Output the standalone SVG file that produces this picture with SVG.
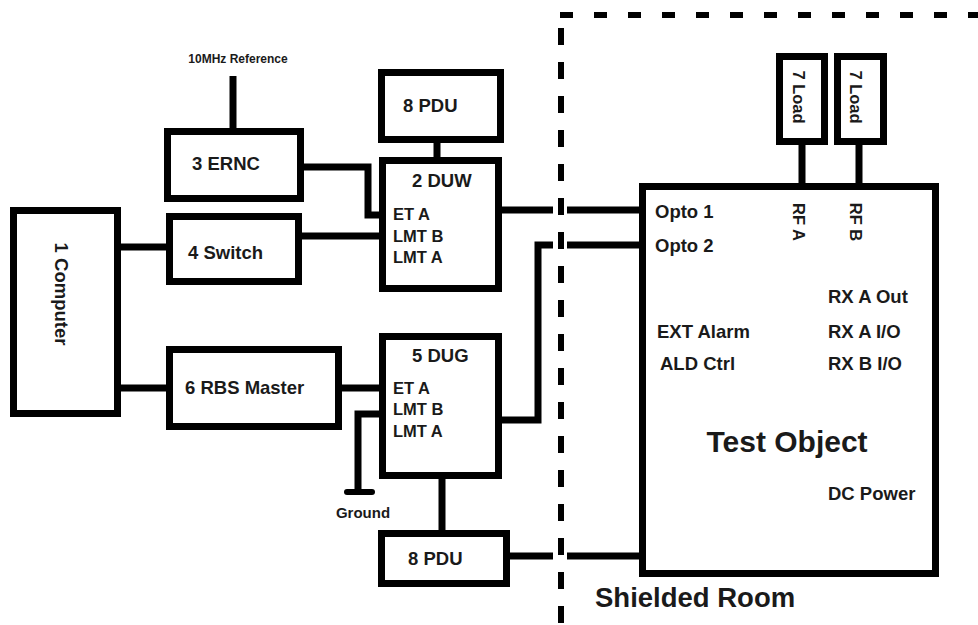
<svg xmlns="http://www.w3.org/2000/svg" width="978" height="625" viewBox="0 0 978 625">
<style>
.box{fill:#fff;stroke:#000;stroke-width:7}
.ln{fill:none;stroke:#000;stroke-width:7}
.dash{fill:none;stroke:#000;stroke-width:6}
text{font-family:"Liberation Sans",Arial,sans-serif;font-weight:bold;fill:#1a1a1a}
.t{font-size:18.5px}
.s{font-size:16.5px}
</style>
<rect width="978" height="625" fill="#fff"/>
<g id="room">
<path class="dash" d="M560 15 H978" stroke-dasharray="13 21"/>
<path class="dash" d="M561 28 V625" stroke-dasharray="17 17"/>
<text x="595" y="607" font-size="27.5px">Shielded Room</text>
</g>
<g id="connectors">
<path class="ln" d="M233 76 V128"/>
<path class="ln" d="M304 167 H368 V215 H380"/>
<path class="ln" d="M121 247 H166"/>
<path class="ln" d="M302 236 H380"/>
<path class="ln" d="M121 388 H166"/>
<path class="ln" d="M342 388 H380"/>
<path class="ln" d="M437 143 V157"/>
<path class="ln" d="M380 414 H358 V492"/>
<path d="M347 492 H372" stroke="#000" stroke-width="6" stroke-linecap="round"/>
<path class="ln" d="M442 479 V530"/>
<path class="ln" d="M502 210 H553 M567 210 H640"/>
<path class="ln" d="M502 420 H538 V245 H553 M567 245 H640"/>
<path class="ln" d="M510 556 H553 M567 556 H640"/>
<path class="ln" d="M802 145 V183 M859 145 V183"/>
</g>
<g id="ref">
<text x="238" y="63" font-size="12px" text-anchor="middle">10MHz Reference</text>
</g>
<g id="computer">
<rect class="box" x="13.5" y="210.5" width="104" height="203"/>
<text class="t" transform="translate(55 294) rotate(90)" text-anchor="middle">1 Computer</text>
</g>
<g id="ernc">
<rect class="box" x="167.5" y="131.5" width="133" height="67"/>
<text class="t" x="192" y="170">3 ERNC</text>
</g>
<g id="switch">
<rect class="box" x="169.5" y="216.5" width="129" height="65"/>
<text class="t" x="188" y="259">4 Switch</text>
</g>
<g id="rbs">
<rect class="box" x="169.5" y="349.5" width="169" height="77"/>
<text class="t" x="185" y="394">6 RBS Master</text>
</g>
<g id="pdu-top">
<rect class="box" x="381.5" y="72.5" width="119" height="67"/>
<text class="t" x="403" y="112">8 PDU</text>
</g>
<g id="duw">
<rect class="box" x="382.5" y="160.5" width="116" height="128"/>
<text class="t" x="412" y="187">2 DUW</text>
<text class="s" x="393" y="220">ET A</text>
<text class="s" x="393" y="242">LMT B</text>
<text class="s" x="393" y="263">LMT A</text>
</g>
<g id="dug">
<rect class="box" x="382.5" y="336.5" width="116" height="139"/>
<text class="t" x="412" y="362">5 DUG</text>
<text class="s" x="393" y="394">ET A</text>
<text class="s" x="393" y="415">LMT B</text>
<text class="s" x="393" y="437">LMT A</text>
<text x="363" y="518" font-size="15px" text-anchor="middle">Ground</text>
</g>
<g id="pdu-bottom">
<rect class="box" x="381.5" y="533.5" width="125" height="50"/>
<text class="t" x="408" y="565">8 PDU</text>
</g>
<g id="load-a">
<rect class="box" x="779.5" y="56.5" width="45" height="85"/>
<text class="s" transform="translate(793 97) rotate(90)" text-anchor="middle">7 Load</text>
</g>
<g id="load-b">
<rect class="box" x="837.5" y="56.5" width="46" height="85"/>
<text class="s" transform="translate(850 97) rotate(90)" text-anchor="middle">7 Load</text>
</g>
<g id="test-object">
<rect class="box" x="642.5" y="186.5" width="293" height="387"/>
<text class="t" x="655" y="218">Opto 1</text>
<text class="t" x="655" y="252">Opto 2</text>
<text class="s" transform="translate(793 222) rotate(90)" text-anchor="middle">RF A</text>
<text class="s" transform="translate(850 222) rotate(90)" text-anchor="middle">RF B</text>
<text class="t" x="828" y="303">RX A Out</text>
<text class="t" x="657" y="338">EXT Alarm</text>
<text class="t" x="828" y="338">RX A I/O</text>
<text class="t" x="660" y="370">ALD Ctrl</text>
<text class="t" x="828" y="370">RX B I/O</text>
<text x="787" y="452" font-size="30px" text-anchor="middle">Test Object</text>
<text class="t" x="828" y="500">DC Power</text>
</g>
</svg>
